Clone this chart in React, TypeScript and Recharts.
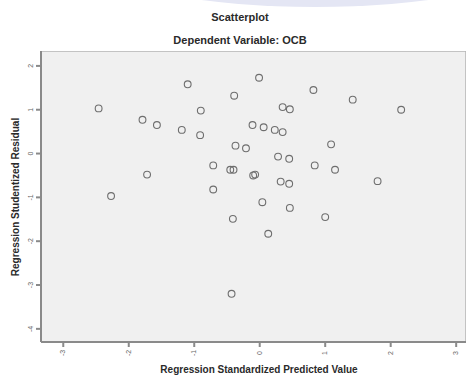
import React from 'react';
import { ScatterChart, Scatter, XAxis, YAxis, ReferenceArea } from 'recharts';

const predictedValues = [
  -2.46, -2.27, -1.79, -1.72, -1.57, -1.19, -1.10, -0.91, -0.90, -0.71,
  -0.71, -0.45, -0.40, -0.39, -0.37, -0.41, -0.43, -0.21, -0.11, -0.10,
  -0.07, -0.01, 0.04, 0.06, 0.13, 0.23, 0.28, 0.32, 0.35, 0.35,
  0.45, 0.45, 0.46, 0.46, 0.82, 0.84, 1.00, 1.09, 1.15, 1.42,
  1.80, 2.16,
];
const studentizedResiduals = [
  1.03, -0.97, 0.77, -0.48, 0.65, 0.54, 1.58, 0.42, 0.98, -0.27,
  -0.82, -0.37, -0.37, 1.32, 0.18, -1.49, -3.20, 0.12, 0.65, -0.50,
  -0.48, 1.73, -1.11, 0.60, -1.83, 0.54, -0.07, -0.64, 1.06, 0.49,
  -0.12, -0.69, 1.01, -1.24, 1.45, -0.27, -1.45, 0.21, -0.37, 1.23,
  -0.63, 1.00,
];
const xTicks = [-3, -2, -1, 0, 1, 2, 3];
const yTicks = [-4, -3, -2, -1, 0, 1, 2];
const xDomain: [number, number] = [-3.34, 3.15];
const yDomain: [number, number] = [-4.3, 2.34];

const points = predictedValues.map((x, i) => ({ x, y: studentizedResiduals[i] }));

const FONT = '"Liberation Sans", Arial, sans-serif';

const XTick = (props: any) => {
  const { x, y, payload } = props;
  return (
    <text
      transform={`translate(${x + 2},${y + 4}) rotate(-90)`}
      textAnchor="middle"
      fontSize={7}
      fill="#666"
      fontFamily={FONT}
    >
      {payload.value}
    </text>
  );
};

const YTick = (props: any) => {
  const { x, y, payload } = props;
  return (
    <text
      transform={`translate(${x - 1},${y}) rotate(-90)`}
      textAnchor="middle"
      fontSize={7}
      fill="#666"
      fontFamily={FONT}
    >
      {payload.value}
    </text>
  );
};

const Marker = (props: any) => {
  const { cx, cy } = props;
  if (cx == null || cy == null) return null;
  return <circle cx={cx} cy={cy} r={3.4} fill="none" stroke="#6e6e6e" strokeWidth={1.1} />;
};

export default function App() {
  return (
    <div
      style={{
        position: 'absolute',
        left: 0,
        top: 0,
        width: 468,
        height: 375,
        overflow: 'hidden',
        background: '#ffffff',
        fontFamily: FONT,
      }}
    >
      <div
        style={{
          position: 'absolute',
          left: 115,
          top: -73,
          width: 400,
          height: 80,
          borderRadius: '50%',
          background: '#e4e6f4',
        }}
      />
      <ScatterChart
        width={468}
        height={375}
        margin={{ top: 51, right: 2, bottom: 13, left: 5 }}
        style={{ position: 'absolute', left: 0, top: 0 }}
      >
        <ReferenceArea
          x1={xDomain[0]}
          x2={xDomain[1]}
          y1={yDomain[0]}
          y2={yDomain[1]}
          fill="#f0f0f0"
          fillOpacity={1}
          stroke="#b4b4b4"
          strokeWidth={1.5}
          ifOverflow="hidden"
        />
        <XAxis
          type="number"
          dataKey="x"
          domain={xDomain}
          ticks={xTicks}
          allowDataOverflow
          height={20}
          tickSize={5}
          tickMargin={2}
          stroke="#8a8a8a"
          strokeWidth={2}
          tick={<XTick />}
          interval={0}
        />
        <YAxis
          type="number"
          dataKey="y"
          domain={yDomain}
          ticks={yTicks}
          allowDataOverflow
          width={36}
          tickSize={5}
          tickMargin={2}
          stroke="#8a8a8a"
          strokeWidth={2}
          tick={<YTick />}
          interval={0}
        />
        <Scatter data={points} shape={<Marker />} isAnimationActive={false} />
      </ScatterChart>
      <div
        style={{
          position: 'absolute',
          left: 0,
          width: 480,
          top: 11,
          textAlign: 'center',
          fontSize: 11,
          fontWeight: 'bold',
          color: '#2a2a2a',
        }}
      >
        Scatterplot
      </div>
      <div
        style={{
          position: 'absolute',
          left: 0,
          width: 480,
          top: 34,
          textAlign: 'center',
          fontSize: 11,
          fontWeight: 'bold',
          color: '#2a2a2a',
        }}
      >
        Dependent Variable: OCB
      </div>
      <div
        style={{
          position: 'absolute',
          left: 0,
          width: 518,
          top: 364,
          textAlign: 'center',
          fontSize: 10,
          fontWeight: 'bold',
          color: '#2a2a2a',
          whiteSpace: 'nowrap',
        }}
      >
        Regression Standardized Predicted Value
      </div>
      <div
        style={{
          position: 'absolute',
          left: 15,
          top: 197,
          transform: 'translate(-50%, -50%) rotate(-90deg)',
          fontSize: 10,
          fontWeight: 'bold',
          color: '#2a2a2a',
          whiteSpace: 'nowrap',
        }}
      >
        Regression Studentized Residual
      </div>
    </div>
  );
}
